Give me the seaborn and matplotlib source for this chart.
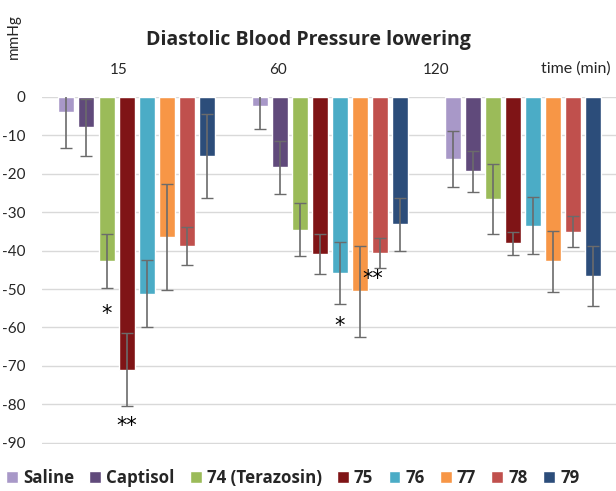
import numpy as np
import pandas as pd
import matplotlib
matplotlib.use('Agg')
import matplotlib.pyplot as plt
import seaborn as sns

# Dados
tempos = ['15', '60', '120']
grupos = ['Saline', 'Captisol', '74 (Terazosin)', '75', '76', '77', '78', '79']
cores = ['#A898C8', '#604A7B', '#9BBB59', '#7F1416', '#4BACC6', '#F79646', '#C0504D', '#2C4D7A']

media = {
    'Saline':         [-3.9, -2.4, -16.2],
    'Captisol':       [-7.9, -18.4, -19.4],
    '74 (Terazosin)': [-42.8, -34.6, -26.5],
    '75':             [-71.0, -41.0, -38.1],
    '76':             [-51.2, -45.8, -33.5],
    '77':             [-36.4, -50.6, -42.8],
    '78':             [-38.9, -40.6, -35.1],
    '79':             [-15.4, -33.2, -46.5],
}
erro = {
    'Saline':         [9.5, 6.1, 7.2],
    'Captisol':       [7.4, 6.8, 5.4],
    '74 (Terazosin)': [7.0, 6.9, 9.1],
    '75':             [9.5, 5.2, 3.0],
    '76':             [8.7, 8.0, 7.5],
    '77':             [13.8, 11.8, 7.9],
    '78':             [4.9, 3.9, 4.0],
    '79':             [11.0, 6.8, 7.8],
}
# marcas de significância: (grupo, tempo, y, texto, deslocamento x)
signif = [
    ('74 (Terazosin)', '15', -56.5, '*', 0.0),
    ('75', '15', -85.5, '**', 0.0),
    ('76', '60', -59.5, '*', 0.0),
    ('78', '60', -47.5, '**', -0.04),
]

linhas = []
for g in grupos:
    for t, v in zip(tempos, media[g]):
        linhas.append({'tempo': t, 'grupo': g, 'valor': v})
df = pd.DataFrame(linhas)

sns.set_style('white')
plt.rcParams['font.family'] = ['Lato', 'DejaVu Sans']
plt.rcParams['axes.unicode_minus'] = False

fig = plt.figure(figsize=(6.16, 4.91), dpi=100)
ax = fig.add_axes([0.068, 0.0957, 0.932, 0.7073])

sns.barplot(data=df, x='tempo', y='valor', hue='grupo', order=tempos,
            hue_order=grupos, palette=cores, width=0.83, gap=0.2,
            saturation=1, errorbar=None, ax=ax, legend=True)

# barras de erro
posx = {}
for g, cont in zip(grupos, ax.containers):
    xs = [p.get_x() + p.get_width() / 2 for p in cont.patches]
    posx[g] = xs
    ax.errorbar(xs, media[g], yerr=erro[g], fmt='none', ecolor='#6b6b6b',
                elinewidth=1.2, capsize=4, capthick=1.0, zorder=3)

for g, t, y, txt, dx in signif:
    x = posx[g][tempos.index(t)] + dx
    ax.text(x, y, txt, ha='center', va='center', fontsize=15, color='black',
            family='DejaVu Sans')

ax.set_ylim(-90.3, 0)
ax.set_xlim(-0.49, 2.48)
ax.set_yticks(np.arange(-90, 1, 10))
ax.yaxis.grid(True, color='#d9d9d9', lw=1)
ax.tick_params(axis='y', labelsize=11, length=0, pad=12)
for s in ax.spines.values():
    s.set_visible(False)
ax.set_xticks([])
ax.set_xlabel('')
ax.set_ylabel('')

# rótulos de categoria acima do eixo
for t, xf in zip(tempos, [0.192, 0.452, 0.708]):
    fig.text(xf, 0.857, t, ha='center', va='center', fontsize=11)
fig.text(0.935, 0.860, 'time (min)', ha='center', va='center', fontsize=11.5)
fig.text(0.022, 0.925, 'mmHg', rotation=90, ha='center', va='center', fontsize=11)
fig.text(0.5, 0.918, 'Diastolic Blood Pressure lowering', ha='center',
         va='center', fontsize=14, fontweight='bold', family='Open Sans')

handles, labels = ax.get_legend_handles_labels()
ax.get_legend().remove()
leg = fig.legend(handles, labels, loc='center', bbox_to_anchor=(0.475, 0.027),
                 ncol=8, frameon=False, handlelength=0.7, handleheight=0.7,
                 handletextpad=0.3, columnspacing=0.9,
                 prop={'weight': 'bold', 'size': 12.2, 'family': 'Open Sans'})

fig.savefig('out.png', dpi=100)
plt.close()
